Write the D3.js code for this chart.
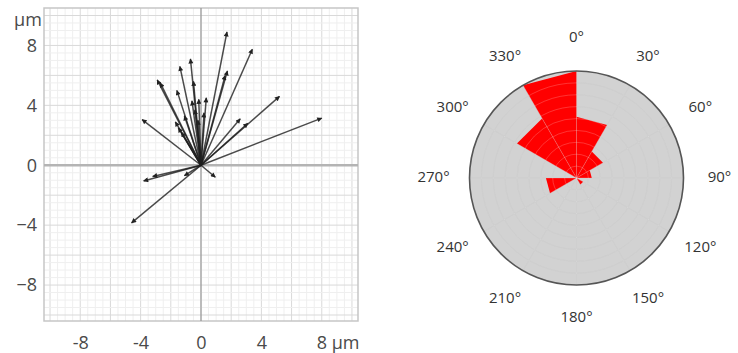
<!DOCTYPE html>
<html>
<head>
<meta charset="utf-8">
<script src="https://cdn.jsdelivr.net/npm/d3@7.9.0/dist/d3.min.js"></script>
<style>
  body { margin: 0; background: #fff; }
  svg { display: block; font-family: "Open Sans", sans-serif; }
</style>
</head>
<body>
<svg width="738" height="353"></svg>
<script>
// displacement vectors (µm), all starting at the origin
const arrowX = [1.72, 3.4, 1.75, 1.6, 5.2, 8.0, 2.6, 3.1, -0.7, -1.4, -2.9, -2.7, -1.6, -0.5,
  0.35, -0.15, -0.6, -3.9, -1.7, -1.5, -1.3, -1.1, -0.4, -3.8, -3.2, -1.1, -4.6, 0.95, -0.2, 0.2];
const arrowY = [8.9, 7.75, 6.3, 6.0, 4.6, 3.15, 3.1, 2.8, 7.1, 6.6, 5.7, 5.5, 5.0, 5.6,
  4.5, 4.4, 4.3, 3.05, 2.9, 2.5, 2.2, 3.3, 3.7, -1.05, -0.75, -0.7, -3.85, -0.8, 3.0, 3.5];
const xTicks = [-8, -4, 0, 4, 8];
const yTicks = [-8, -4, 0, 4, 8];

// rose diagram: 30° bins starting at 0° (north), clockwise
const roseBins = [0, 30, 60, 90, 120, 150, 180, 210, 240, 270, 300, 330];
const roseCounts = [8, 4, 2, 0, 1, 0, 0, 0, 4, 0, 9, 14];
const roseLabels = roseBins.map(d => d + "°");

const svg = d3.select("svg");

// ---------- vector plot ----------
const x = d3.scaleLinear().domain([-10.4, 10.4]).range([44, 358]);
const y = d3.scaleLinear().domain([-10.4, 10.5]).range([321, 8]);

const grid = svg.append("g");
grid.append("rect")
  .attr("x", x(-10.4)).attr("y", y(10.5))
  .attr("width", x(10.4) - x(-10.4)).attr("height", y(-10.4) - y(10.5))
  .attr("fill", "#fff");

const minor = d3.range(-10, 10.01, 0.5);
grid.selectAll(".vx").data(minor).join("line")
  .attr("x1", d => x(d)).attr("x2", d => x(d))
  .attr("y1", y(10.5)).attr("y2", y(-10.4))
  .attr("stroke", d => d % 2 === 0 ? "#d9d9d9" : "#efefef")
  .attr("stroke-width", 1);
grid.selectAll(".hy").data(minor).join("line")
  .attr("y1", d => y(d)).attr("y2", d => y(d))
  .attr("x1", x(-10.4)).attr("x2", x(10.4))
  .attr("stroke", d => d % 2 === 0 ? "#d9d9d9" : "#efefef")
  .attr("stroke-width", 1);

grid.append("rect")
  .attr("x", x(-10.4)).attr("y", y(10.5))
  .attr("width", x(10.4) - x(-10.4)).attr("height", y(-10.4) - y(10.5))
  .attr("fill", "none").attr("stroke", "#c6c6c6").attr("stroke-width", 1.5);

// zero lines
grid.append("line")
  .attr("x1", x(-10.4)).attr("x2", x(10.4)).attr("y1", y(0)).attr("y2", y(0))
  .attr("stroke", "#b4b4b4").attr("stroke-width", 2.5);
grid.append("line")
  .attr("x1", x(0)).attr("x2", x(0)).attr("y1", y(10.5)).attr("y2", y(-10.4))
  .attr("stroke", "#8a8a8a").attr("stroke-width", 1);

// axes labels
const xAxis = d3.axisBottom(x).tickValues(xTicks).tickSize(0)
  .tickFormat(d => d === 8 ? "8 µm" : d);
const gx = svg.append("g").attr("transform", "translate(0,333)").call(xAxis);
gx.select(".domain").remove();
gx.selectAll("text").attr("font-size", 18).attr("fill", "#4a4a4a")
  .attr("font-family", "Open Sans, sans-serif")
  .filter(d => d === 8).attr("text-anchor", "start").attr("dx", -5.5);

const yAxis = d3.axisLeft(y).tickValues(yTicks).tickSize(0);
const gy = svg.append("g").attr("transform", "translate(40,0)").call(yAxis);
gy.select(".domain").remove();
gy.selectAll("text").attr("font-size", 18).attr("fill", "#4a4a4a")
  .attr("font-family", "Open Sans, sans-serif");

svg.append("text").attr("x", 28).attr("y", 26)
  .attr("text-anchor", "middle").attr("font-size", 18).attr("fill", "#4a4a4a")
  .text("µm");

// arrows
svg.append("defs").append("marker")
  .attr("id", "head").attr("viewBox", "0 0 10 10")
  .attr("refX", 9).attr("refY", 5)
  .attr("markerWidth", 8).attr("markerHeight", 5)
  .attr("markerUnits", "userSpaceOnUse")
  .attr("orient", "auto")
  .append("path").attr("d", "M0,0L10,5L0,10z").attr("fill", "#222");

const vectors = arrowX.map((dx, i) => ({ dx, dy: arrowY[i] }));
svg.append("g").selectAll("line").data(vectors).join("line")
  .attr("x1", x(0)).attr("y1", y(0))
  .attr("x2", d => x(d.dx)).attr("y2", d => y(d.dy))
  .attr("stroke", "#1e1e1e").attr("stroke-opacity", 0.8)
  .attr("stroke-width", 1.5)
  .attr("marker-end", "url(#head)");

// ---------- rose diagram ----------
const cx = 576.5, cy = 178, R = 107;
const rose = svg.append("g").attr("transform", `translate(${cx},${cy})`);
const r = d3.scaleLinear().domain([0, 14]).range([0, R]);
const toRad = d => d * Math.PI / 180;

rose.append("circle").attr("r", R).attr("fill", "#d2d2d2");

const rings = d3.range(1, 9).map(i => i * R / 9);
const spokes = roseBins;

function drawGrid(g, color, width) {
  g.selectAll(".ring").data(rings).join("circle")
    .attr("r", d => d).attr("fill", "none")
    .attr("stroke", color).attr("stroke-width", width);
  g.selectAll(".spoke").data(spokes).join("line")
    .attr("x1", 0).attr("y1", 0)
    .attr("x2", d => R * Math.sin(toRad(d)))
    .attr("y2", d => -R * Math.cos(toRad(d)))
    .attr("stroke", color).attr("stroke-width", width);
}
drawGrid(rose.append("g"), "#c3c3c3", 1);

// wedges drawn as straight-edged triangles
const wedge = d3.lineRadial()
  .angle(p => toRad(p[0])).radius(p => p[1])
  .curve(d3.curveLinearClosed);
const bins = roseBins.map((a, i) => ({ a, n: roseCounts[i] }));
rose.append("g").selectAll("path").data(bins.filter(d => d.n > 0)).join("path")
  .attr("d", d => wedge([[d.a, 0], [d.a, r(d.n)], [d.a + 30, r(d.n)]]))
  .attr("fill", "#ff0000");

drawGrid(rose.append("g"), "rgba(255,255,255,0.2)", 1);

rose.append("circle").attr("r", R).attr("fill", "none")
  .attr("stroke", "#555").attr("stroke-width", 1.6);

rose.append("g").selectAll("text").data(roseBins).join("text")
  .attr("x", d => 143 * Math.sin(toRad(d)))
  .attr("y", d => -140 * Math.cos(toRad(d)) - 2)
  .attr("text-anchor", "middle").attr("dominant-baseline", "central")
  .attr("font-size", 15).attr("fill", "#333")
  .text((d, i) => roseLabels[i]);
</script>
</body>
</html>
